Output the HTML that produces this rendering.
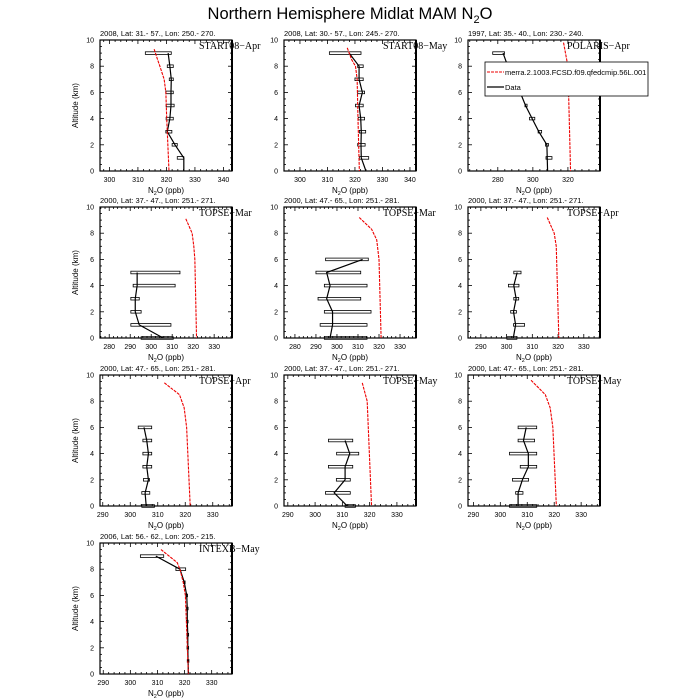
<!DOCTYPE html>
<html><head><meta charset="utf-8"><style>
html,body{margin:0;padding:0;background:#fff;}
svg{display:block;font-family:"Liberation Sans",sans-serif;}
</style></head><body>
<svg id="s" width="700" height="700" viewBox="0 0 700 700" xmlns="http://www.w3.org/2000/svg">
<text x="350" y="19" font-size="16.5" text-anchor="middle">Northern Hemisphere Midlat MAM N<tspan font-size="11" dy="4">2</tspan><tspan dy="-4">O</tspan></text>
</svg>
<script>
var S=document.getElementById('s');var out='';
var cols=[100,284,468],rows=[40,207,375,543],W=132,H=131;
var P=[
{c:0,r:0,x0:296.7,x1:343,t:[300,310,320,330,340],title:"2008, Lat:  31.- 57., Lon: 250.- 270.",lab:"START08\u2212Apr",
 d:[[9,320.6,312.6,321.7],[8,321.2,320.3,322.4],[7,321.7,321,322.4],[6,321.6,319.8,322.4],[5,321.6,319.9,322.7],[4,321.2,319.9,322.4],[3,320.3,319.8,321.9],[2,323,322,323.8],[1,326.1,323.8,326.1],[0,326.1]],
 m:[[9.3,315.7],[8.5,316.9],[8,317.7],[7,319.2],[6,319.8],[4,320.1],[0,320.9]]},
{c:1,r:0,x0:294.2,x1:342.2,t:[300,310,320,330,340],title:"2008, Lat:  30.- 57., Lon: 245.- 270.",lab:"START08\u2212May",
 d:[[9,317.9,310.7,322.2],[8,321.5,321,323],[7,321.5,320,323],[6,322.7,321,323.5],[5,321.5,320.2,323],[4,322.1,321.2,323.5],[3,322.3,321.6,323.9],[2,322.2,321,323.7],[1,322.3,321.6,325],[0,324]],
 m:[[9.4,317.2],[8.5,318.8],[8,320.2],[7,320.8],[4,321.1],[0,321.6]]},
{c:2,r:0,x0:263,x1:338.3,t:[280,300,320],title:"1997, Lat: 35.- 40., Lon: 230.- 240.",lab:"POLARIS\u2212Apr",
 d:[[9,283,277.1,283.8],[8,285.7,285,286.5],[7,288,284.6,295.2],[6,292.8,292,294.7],[5,295.8,295.5,296.7],[4,299.6,298.1,301.1],[3,303.4,303,305],[2,308,307.2,308.9],[1,308.2,307.5,310.9],[0,308.4]],
 m:[[9.8,317.5],[8,320],[0,321.5]]},
{c:0,r:1,x0:275.6,x1:338.5,t:[280,290,300,310,320,330],title:"2000, Lat: 37.- 47., Lon: 251.- 271.",lab:"TOPSE\u2212Mar",
 d:[[5,293.3,290.3,313.7],[4,293.3,291.4,311.4],[3,292.4,290.3,294.3],[2,292.4,290.3,295.2],[1,294.3,290.3,309.4],[0,305.7,295.2,310.5]],
 m:[[9.1,316.5],[8,319.5],[7,320.3],[6,320.8],[0,321.6]]},
{c:1,r:1,x0:274.8,x1:337.6,t:[280,290,300,310,320,330],title:"2000, Lat: 47.- 65., Lon: 251.- 281.",lab:"TOPSE\u2212Mar",
 d:[[6,312.2,294.6,314.9],[5,295.1,290,311.3],[4,296.7,294,314.3],[3,295.1,291,311.3],[2,297.9,294,316.2],[1,297.9,292,314.3],[0,296.7,294,314.3]],
 m:[[9.2,310.6],[8.3,316.5],[7.5,318.9],[6,320],[0,321]]},
{c:2,r:1,x0:285,x1:336.3,t:[290,300,310,320,330],title:"2000, Lat: 37.- 47., Lon: 251.- 271.",lab:"TOPSE\u2212Apr",
 d:[[5,304.1,302.8,305.6],[4,302.8,300.7,304.8],[3,303.7,302.8,304.7],[2,302.7,301.6,303.8],[1,303.5,302.7,307],[0,302.6,300.1,304]],
 m:[[9.2,315.8],[8,318.5],[7,319.3],[0,320.3]]},
{c:0,r:2,x0:289,x1:337,t:[290,300,310,320,330],title:"2000, Lat: 47.- 65., Lon: 251.- 281.",lab:"TOPSE\u2212Apr",
 d:[[6,305,302.9,307.8],[5,306,304.6,307.8],[4,306.6,304.6,307.8],[3,306,304.6,307.8],[2,306.6,304.8,307],[1,305.4,304.2,307.1],[0,305.8,304.2,308.8]],
 m:[[9.4,312.4],[8.5,317.9],[7.5,319.6],[6,320.5],[0,321.8]]},
{c:1,r:2,x0:288.6,x1:337,t:[290,300,310,320,330],title:"2000, Lat: 37.- 47., Lon: 251.- 271.",lab:"TOPSE\u2212May",
 d:[[5,311,304.9,313.8],[4,312.7,307.9,316],[3,311,304.9,313.8],[2,311,307.8,312.9],[1,307,303.8,312.9],[0,311.8,311,314.8]],
 m:[[9.4,317.3],[8,319.1],[0,320.7]]},
{c:2,r:2,x0:288,x1:337,t:[290,300,310,320,330],title:"2000, Lat: 47.- 65., Lon: 251.- 281.",lab:"TOPSE\u2212May",
 d:[[6,309.6,306.6,313.5],[5,308.6,306.6,312.7],[4,310.4,303.4,313.5],[3,310.4,307.4,313.5],[2,308.2,304.5,310.5],[1,306.6,305.7,308.4],[0,306.6,303.4,313.5]],
 m:[[9.6,311.4],[8.5,316.7],[7.5,318.5],[6,319.5],[0,320.8]]},
{c:0,r:3,x0:288.8,x1:337.5,t:[290,300,310,320,330],title:"2006, Lat: 56.- 62., Lon: 205.- 215.",lab:"INTEXB\u2212May",
 d:[[9,309.4,303.7,312.3],[8,318.3,316.8,320.4],[7,319.9,319.6,320.2],[6,320.8,320.5,321.1],[5,321,320.7,321.3],[4,321,320.7,321.3],[3,321.2,320.9,321.5],[2,321.2,320.9,321.5],[1,321.3,321,321.6],[0,321.4]],
 m:[[9.5,311.3],[8.5,317.3],[8,318.3],[7,319.5],[6,320.3],[0,321.4]]}
];
P.forEach(function(p){
 var L=cols[p.c],T=rows[p.r],R=L+W,B=T+H;
 var X=function(v){return L+(v-p.x0)/(p.x1-p.x0)*W;},Y=function(a){return B-a/10*H;};
 var g='';
 for(var a=0;a<=10.001;a+=0.5){var maj=Math.abs(a%2)<0.01,len=maj?4:2,y=Y(a);
  g+='<line x1="'+L+'" y1="'+y+'" x2="'+(L+len)+'" y2="'+y+'" stroke="#000" stroke-width="0.8"/>';
  g+='<line x1="'+R+'" y1="'+y+'" x2="'+(R-len)+'" y2="'+y+'" stroke="#000" stroke-width="0.8"/>';
  if(maj)g+='<text x="'+(L-6)+'" y="'+(y+2.5)+'" font-size="7" text-anchor="end">'+Math.round(a)+'</text>';}
 var step=(p.t[1]-p.t[0])/5;
 for(var v=Math.ceil(p.x0/step)*step;v<=p.x1;v+=step){var x=X(v);var maj=p.t.some(function(t){return Math.abs(t-v)<0.01});var len=maj?4:2;
  g+='<line x1="'+x+'" y1="'+B+'" x2="'+x+'" y2="'+(B-len)+'" stroke="#000" stroke-width="0.8"/>';
  g+='<line x1="'+x+'" y1="'+T+'" x2="'+x+'" y2="'+(T+len)+'" stroke="#000" stroke-width="0.8"/>';}
 p.t.forEach(function(t){g+='<text x="'+X(t)+'" y="'+(B+11)+'" font-size="7" text-anchor="middle">'+t+'</text>';});
 g+='<rect x="'+L+'" y="'+T+'" width="'+W+'" height="'+H+'" fill="none" stroke="#000" stroke-width="1.2"/>';
 g+='<line x1="'+R+'" y1="'+T+'" x2="'+R+'" y2="'+B+'" stroke="#000" stroke-width="2"/>';
 p.d.forEach(function(d){if(d.length>2){var h=2.6;g+='<rect x="'+X(d[2])+'" y="'+(Y(d[0])-h/2)+'" width="'+(X(d[3])-X(d[2]))+'" height="'+h+'" fill="none" stroke="#000" stroke-width="0.8"/>';}});
 g+='<polyline fill="none" stroke="#000" stroke-width="1.2" points="'+p.d.map(function(d){return X(d[1])+','+Y(d[0])}).join(' ')+'"/>';
 g+='<polyline fill="none" stroke="#e00" stroke-width="1.1" stroke-dasharray="3,1" points="'+p.m.map(function(d){return X(d[1])+','+Y(d[0])}).join(' ')+'"/>';
 g+='<text x="'+L+'" y="'+(T-4)+'" font-size="7.5">'+p.title+'</text>';
 g+='<text x="'+(R-33)+'" y="'+(T+9)+'" font-size="10" font-family="Liberation Serif,serif">'+p.lab+'</text>';
 g+='<text x="'+(L+W/2)+'" y="'+(B+22)+'" font-size="8" text-anchor="middle">N<tspan font-size="5.5" dy="2">2</tspan><tspan dy="-2">O (ppb)</tspan></text>';
 if(p.c==0)g+='<text transform="translate('+(L-22)+','+(T+H/2)+') rotate(-90)" font-size="8" text-anchor="middle">Altitude (km)</text>';
 out+=g;
});
out+='<rect x="485" y="62" width="163" height="34" fill="#fff" stroke="#000" stroke-width="0.8"/>';
out+='<line x1="487" y1="72" x2="504" y2="72" stroke="#e00" stroke-width="1.1" stroke-dasharray="3,1"/><text x="505" y="75" font-size="7.5">merra.2.1003.FCSD.f09.qfedcmip.56L.001</text>';
out+='<line x1="487" y1="87" x2="504" y2="87" stroke="#000" stroke-width="1.2"/><text x="505" y="90" font-size="7.5">Data</text>';
S.insertAdjacentHTML('beforeend',out);
</script>
</body></html>
